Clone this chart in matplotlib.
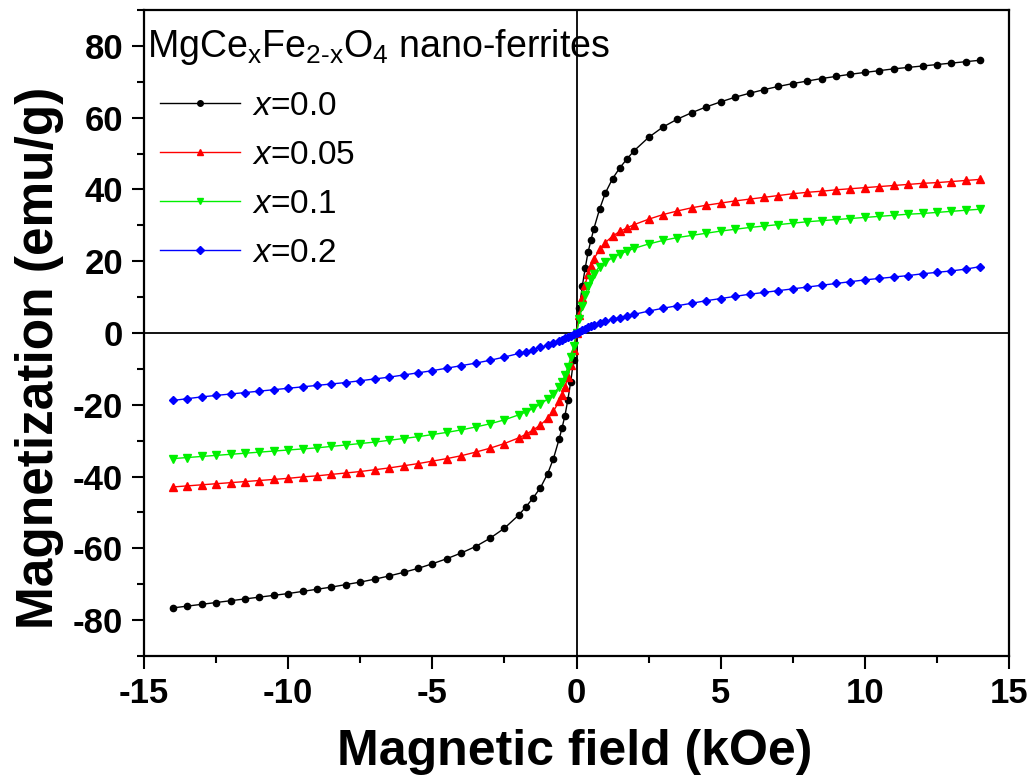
import matplotlib
matplotlib.use("Agg")
import matplotlib.pyplot as plt
from matplotlib.ticker import MultipleLocator

# ---------------- data ----------------
field = [-14.0, -13.5, -13.0, -12.5, -12.0, -11.5, -11.0, -10.5, -10.0, -9.5, -9.0, -8.5,
         -8.0, -7.5, -7.0, -6.5, -6.0, -5.5, -5.0, -4.5, -4.0, -3.5, -3.0, -2.5,
         -2.0, -1.75, -1.5, -1.25, -1.0, -0.8, -0.6, -0.5, -0.4, -0.3, -0.2, -0.1,
         0.0,
         0.1, 0.2, 0.3, 0.4, 0.5, 0.6, 0.8, 1.0, 1.25, 1.5, 1.75, 2.0,
         2.5, 3.0, 3.5, 4.0, 4.5, 5.0, 5.5, 6.0, 6.5, 7.0, 7.5, 8.0,
         8.5, 9.0, 9.5, 10.0, 10.5, 11.0, 11.5, 12.0, 12.5, 13.0, 13.5, 14.0]

m_x000 = [-76.6, -76.1, -75.6, -75.1, -74.6, -74.1, -73.6, -73.1, -72.6, -72.0, -71.4, -70.8,
          -70.1, -69.4, -68.6, -67.7, -66.7, -65.6, -64.3, -62.9, -61.3, -59.5, -57.2, -54.4,
          -50.7, -48.4, -45.9, -43.1, -39.2, -35.0, -29.5, -26.4, -23.0, -18.6, -13.6, -7.5,
          0.0,
          7.0, 13.0, 18.0, 22.5, 25.8, 29.0, 34.5, 39.0, 43.0, 46.0, 48.5, 50.8,
          54.5, 57.4, 59.6, 61.4, 63.0, 64.4, 65.7, 66.8, 67.8, 68.7, 69.5, 70.2,
          70.9, 71.5, 72.1, 72.6, 73.1, 73.6, 74.0, 74.4, 74.8, 75.2, 75.6, 76.0]

m_x005 = [-42.9, -42.6, -42.3, -42.0, -41.7, -41.4, -41.1, -40.8, -40.5, -40.1, -39.8, -39.4,
          -39.0, -38.6, -38.1, -37.6, -37.0, -36.4, -35.7, -35.0, -34.2, -33.2, -32.1, -30.8,
          -29.2, -28.2, -27.0, -25.6, -23.8, -21.8, -19.0, -17.2, -15.0, -12.3, -9.0, -4.8,
          0.0,
          5.0, 9.8, 13.5, 16.5, 18.8, 20.6, 23.3, 25.2, 27.0, 28.3, 29.3, 30.2,
          31.7, 33.0, 34.0, 34.9, 35.6, 36.2, 36.8, 37.3, 37.8, 38.3, 38.8, 39.2,
          39.5, 39.9, 40.2, 40.5, 40.8, 41.1, 41.4, 41.7, 41.9, 42.2, 42.5, 42.8]

m_x010 = [-35.0, -34.7, -34.4, -34.1, -33.8, -33.5, -33.2, -32.9, -32.6, -32.3, -32.0, -31.6,
          -31.2, -30.8, -30.4, -29.9, -29.4, -28.9, -28.3, -27.7, -27.0, -26.2, -25.3, -24.2,
          -22.8, -22.0, -21.0, -19.8, -18.4, -17.0, -15.0, -13.6, -11.8, -9.6, -6.8, -3.6,
          0.0,
          3.8, 7.5, 10.5, 13.0, 15.0, 16.5, 18.5, 19.7, 21.0, 22.0, 22.8, 23.6,
          24.8, 25.8, 26.6, 27.2, 27.8, 28.4, 28.9, 29.4, 29.8, 30.2, 30.6, 31.0,
          31.3, 31.6, 31.9, 32.2, 32.5, 32.8, 33.1, 33.3, 33.6, 33.9, 34.2, 34.5]

m_x020 = [-18.8, -18.3, -17.8, -17.4, -17.0, -16.6, -16.2, -15.8, -15.4, -15.0, -14.6, -14.2,
          -13.8, -13.3, -12.8, -12.3, -11.7, -11.1, -10.5, -9.8, -9.1, -8.4, -7.6, -6.7,
          -5.7, -5.2, -4.6, -4.0, -3.4, -2.8, -2.2, -1.9, -1.5, -1.1, -0.8, -0.4,
          0.0,
          0.4, 0.8, 1.2, 1.6, 1.9, 2.2, 2.8, 3.3, 3.8, 4.3, 4.8, 5.2,
          6.1, 6.9, 7.6, 8.3, 9.0, 9.6, 10.2, 10.8, 11.3, 11.8, 12.3, 12.8,
          13.3, 13.8, 14.3, 14.8, 15.2, 15.6, 16.0, 16.5, 16.9, 17.3, 17.8, 18.5]

series_labels = ["$\\mathit{x}$=0.0", "$\\mathit{x}$=0.05", "$\\mathit{x}$=0.1", "$\\mathit{x}$=0.2"]
series_values = [m_x000, m_x005, m_x010, m_x020]
series_colors = ["#000000", "#FF0000", "#00F000", "#0000FF"]
series_markers = ["o", "^", "v", "D"]
series_msizes = [4.5, 5.5, 5.5, 4.5]

title_text = ("MgCe$_{\\mathregular{x}}$Fe$_{\\mathregular{2\\text{-}x}}$"
              "O$_{\\mathregular{4}}$ nano-ferrites")
x_label = "Magnetic field (kOe)"
y_label = "Magnetization (emu/g)"

# ---------------- style ----------------
plt.rcParams['font.family'] = ['Liberation Sans', 'DejaVu Sans']
plt.rcParams['axes.unicode_minus'] = False
plt.rcParams['mathtext.fontset'] = 'custom'
plt.rcParams['mathtext.rm'] = 'Liberation Sans'
plt.rcParams['mathtext.it'] = 'Liberation Sans:italic'
plt.rcParams['mathtext.bf'] = 'Liberation Sans:bold'

W, H = 1035, 780
fig = plt.figure(figsize=(W / 100, H / 100), dpi=100)
ax = fig.add_axes([144 / W, 1 - 656 / H, (1009 - 144) / W, (656 - 10) / H])

ax.axhline(0, color="black", lw=1.3, zorder=1)
ax.axvline(0, color="black", lw=1.3, zorder=1)

for lab, vals, col, mk, ms in zip(series_labels, series_values, series_colors,
                                  series_markers, series_msizes):
    ax.plot(field, vals, color=col, lw=1.0, marker=mk, ms=ms, mec=col, mfc=col,
            label=lab, zorder=3)

ax.set_xlim(-15, 15)
ax.set_ylim(-90, 90)
ax.xaxis.set_major_locator(MultipleLocator(5))
ax.xaxis.set_minor_locator(MultipleLocator(2.5))
ax.yaxis.set_major_locator(MultipleLocator(20))
ax.yaxis.set_minor_locator(MultipleLocator(10))

for s in ax.spines.values():
    s.set_linewidth(1.6)
ax.tick_params(which="major", direction="out", length=9, width=1.5, pad=6,
               top=False, right=False)
ax.tick_params(which="minor", direction="out", length=5, width=1.5,
               top=False, right=False)
for t in ax.get_xticklabels() + ax.get_yticklabels():
    t.set_fontsize(25)
    t.set_fontweight("bold")

ax.set_xlabel(x_label, fontsize=36, fontweight="bold", va="center")
ax.xaxis.set_label_coords((575 - 144) / 865, (656 - 752) / 646)
ax.set_ylabel(y_label, fontsize=37, fontweight="bold", va="center")
ax.yaxis.set_label_coords((40 - 144) / 865, (656 - 358) / 646)

ax.text(147 / W, 1 - 57 / H, title_text, transform=fig.transFigure,
        fontsize=27, ha="left", va="baseline")

leg = ax.legend(loc="upper left", bbox_to_anchor=(160 / W, 1 - 91 / H),
                bbox_transform=fig.transFigure, frameon=False, fontsize=24,
                handlelength=2.4, handletextpad=0.35, labelspacing=0.54,
                borderpad=0, borderaxespad=0, numpoints=1)
for h in leg.legend_handles:
    h.set_markersize(4)

fig.savefig("out.png", dpi=100)
